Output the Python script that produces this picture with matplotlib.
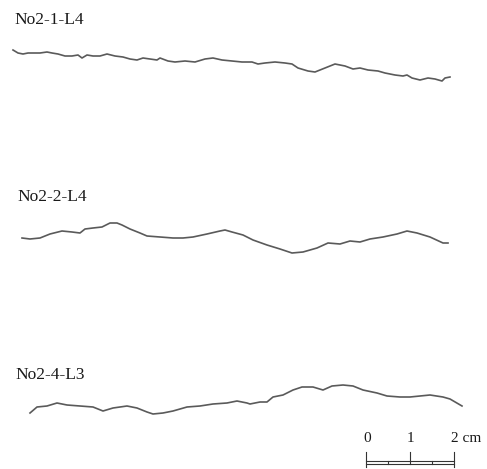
import numpy as np
import matplotlib.pyplot as plt

# profile traces (x along the sample, y downward)
labels = ["No2-1-L4", "No2-2-L4", "No2-4-L3"]
label_pos = [(14, 20), (17, 197), (15, 375)]

p1_x = [13, 18, 23, 28, 33, 40, 47, 52, 58, 65, 72, 78, 82, 87, 93, 100, 107, 115, 123,
        130, 137, 143, 150, 157, 160, 168, 175, 185, 195, 205, 213, 222, 232, 242, 252,
        258, 265, 275, 285, 292, 298, 308, 315, 325, 335, 345, 353, 360, 368, 378, 385,
        395, 403, 407, 412, 420, 428, 435, 442, 445, 450]
p1_y = [50, 53, 54, 53, 53, 53, 52, 53, 54, 56, 56, 55, 58, 55, 56, 56, 54, 56, 57,
        59, 60, 58, 59, 60, 58, 61, 62, 61, 62, 59, 58, 60, 61, 62, 62,
        64, 63, 62, 63, 64, 68, 71, 72, 68, 64, 66, 69, 68, 70, 71, 73,
        75, 76, 75, 78, 80, 78, 79, 81, 78, 77]

p2_x = [22, 30, 40, 50, 62, 72, 80, 85, 93, 102, 110, 117, 122, 130, 140, 147, 160, 173,
        183, 193, 207, 220, 225, 232, 243, 253, 267, 280, 292, 303, 317, 328, 340, 350,
        360, 370, 383, 397, 407, 417, 430, 443, 448]
p2_y = [238, 239, 238, 234, 231, 232, 233, 229, 228, 227, 223, 223, 225, 229, 233, 236, 237, 238,
        238, 237, 234, 231, 230, 232, 235, 240, 245, 249, 253, 252, 248, 243, 244, 241,
        242, 239, 237, 234, 231, 233, 237, 243, 243]

p3_x = [30, 37, 47, 57, 67, 80, 93, 103, 113, 127, 137, 147, 153, 163, 173, 187, 200, 213,
        227, 237, 247, 250, 260, 267, 273, 283, 293, 302, 313, 323, 332, 343, 353, 363,
        377, 387, 400, 410, 420, 430, 443, 450, 462]
p3_y = [413, 407, 406, 403, 405, 406, 407, 411, 408, 406, 408, 412, 414, 413, 411, 407, 406, 404,
        403, 401, 403, 404, 402, 402, 397, 395, 390, 387, 387, 390, 386, 385, 386, 390,
        393, 396, 397, 397, 396, 395, 397, 399, 406]

profiles = [(p1_x, p1_y), (p2_x, p2_y), (p3_x, p3_y)]

# scale bar: 0..2 cm
bar_x0, bar_px_per_cm = 366, 44
bar_ticks = [0, 0.5, 1, 1.5, 2]
bar_labels = {0: "0", 1: "1", 2: "2 cm"}

fig = plt.figure(figsize=(4.87, 4.69), dpi=100)
ax = fig.add_axes([0, 0, 1, 1])
ax.set_xlim(0, 487)
ax.set_ylim(469, 0)
ax.axis("off")

for (x, y) in profiles:
    ax.plot(x, y, color="#5a5a5a", lw=1.2, solid_joinstyle="round")

for lab, (lx, ly) in zip(labels, label_pos):
    ax.text(lx, ly, lab, family="Liberation Serif", fontsize=12.5,
            ha="left", va="center", color="#1a1a1a")

# scale bar
xs = [bar_x0 + t * bar_px_per_cm for t in bar_ticks]
ax.plot([xs[0], xs[-1]], [461, 461], color="#333333", lw=0.8)
ax.plot([xs[0], xs[-1]], [464.5, 464.5], color="#333333", lw=0.8)
for t, xx in zip(bar_ticks, xs):
    if t in (0, 2):
        ax.plot([xx, xx], [452, 467], color="#333333", lw=0.8)
    elif t == 1:
        ax.plot([xx, xx], [452, 464.5], color="#333333", lw=0.8)
    else:
        ax.plot([xx, xx], [461, 464.5], color="#333333", lw=0.8)
for t, s in bar_labels.items():
    xx = bar_x0 + t * bar_px_per_cm
    ax.text(xx - 3, 439, s, family="Liberation Serif", fontsize=11,
            ha="left", va="center", color="#1a1a1a")

fig.savefig("out.png", dpi=100)
